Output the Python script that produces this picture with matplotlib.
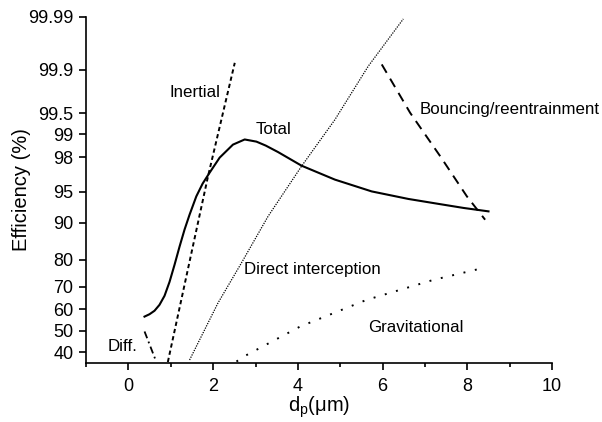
import numpy as np
import matplotlib
matplotlib.use('Agg')
import matplotlib.pyplot as plt
from statistics import NormalDist

plt.rcParams['font.family'] = ['Liberation Sans', 'DejaVu Sans']

# curves: particle size (um) and efficiency (%)
total_x = [0.379, 0.497, 0.615, 0.733, 0.852, 0.970, 1.088, 1.207, 1.325, 1.443,
           1.602, 1.751, 1.916, 2.153, 2.467, 2.744, 3.021, 3.241, 3.532, 4.086,
           4.873, 5.742, 6.608, 7.357, 7.909, 8.500]
total_y = [56.7, 57.8, 59.4, 62.1, 66.1, 71.9, 78.3, 84.1, 88.5, 91.56,
           94.44, 95.94, 96.95, 97.99, 98.63, 98.83, 98.75, 98.59, 98.29, 97.48,
           96.34, 95.07, 94.09, 93.33, 92.73, 92.15]

inertial_x = [0.93, 1.876, 2.51]
inertial_y = [35.6, 96.6, 99.925]

diff_x = [0.38, 0.655]
diff_y = [49.7, 35.8]

direct_x = [1.443, 2.113, 2.666, 3.296, 4.086, 4.873, 5.661, 6.489]
direct_y = [36.5, 62.9, 78.9, 91.25, 97.44, 99.38, 99.914, 99.989]

grav_x = [2.55, 2.70, 4.05, 5.62, 7.20, 8.38]
grav_y = [35.8, 37.8, 52.0, 64.3, 72.7, 77.2]

bounce_x = [5.98, 6.65, 7.36, 7.99, 8.42]
bounce_y = [99.92, 99.51, 98.07, 94.44, 90.6]

yticks = [40, 50, 60, 70, 80, 90, 95, 98, 99, 99.5, 99.9, 99.99]
ytick_labels = ['40', '50', '60', '70', '80', '90', '95', '98', '99', '99.5', '99.9', '99.99']

nd = NormalDist()
_ppf = np.vectorize(lambda p: nd.inv_cdf(p), otypes=[float])
_cdf = np.vectorize(lambda z: nd.cdf(z), otypes=[float])


def forward(p):
    p = np.clip(np.asarray(p, dtype=float) / 100.0, 1e-9, 1 - 1e-9)
    return _ppf(p)


def inverse(z):
    return 100.0 * _cdf(np.asarray(z, dtype=float))


fig = plt.figure(figsize=(6.02, 4.22), dpi=100)
ax = fig.add_axes([0.143, 0.140, 0.774, 0.820])
ax.set_yscale('function', functions=(forward, inverse))

ax.plot(total_x, total_y, color='black', lw=1.5)
ax.plot(inertial_x, inertial_y, color='black', lw=1.4, ls=(0, (2.2, 1.6)))
ax.plot(diff_x, diff_y, color='black', lw=1.3, ls=(0, (4, 2, 1, 2)))
ax.plot(direct_x, direct_y, color='black', lw=0.9, ls=(0, (1, 1)))
ax.plot(grav_x, grav_y, color='black', lw=1.4, ls=(0, (1, 5)))
ax.plot(bounce_x, bounce_y, color='black', lw=1.4, ls=(0, (5, 3.5)))

ax.set_xlim(-1, 10)
ax.set_ylim(35.2, 99.99)
ax.set_yticks(yticks)
ax.set_yticklabels(ytick_labels)
ax.minorticks_off()
ax.set_xticks([0, 2, 4, 6, 8, 10])
ax.set_xticks([-1, 1, 3, 5, 7, 9], minor=True)

for s in ['top', 'right']:
    ax.spines[s].set_visible(False)
for s in ['left', 'bottom']:
    ax.spines[s].set_linewidth(1.2)
ax.tick_params(axis='both', which='major', direction='out', length=5, width=1.2, labelsize=13)
ax.tick_params(axis='y', which='major', pad=4)
ax.tick_params(axis='x', which='major', pad=6)
ax.tick_params(axis='x', which='minor', direction='out', length=3, width=1.2)

ax.set_xlabel('d$_\\mathregular{p}$(\u03bcm)', fontsize=14.5)
ax.set_ylabel('Efficiency (%)', fontsize=14.5)
ax.xaxis.set_label_coords(0.5, -0.09)
ax.yaxis.set_label_coords(-0.118, 0.5)

fs = 12.2
ax.text(1.58, 99.76, 'Inertial', fontsize=fs, ha='center', va='center')
ax.text(3.43, 99.14, 'Total', fontsize=fs, ha='center', va='center')
ax.text(6.88, 99.56, 'Bouncing/reentrainment', fontsize=fs, ha='left', va='center')
ax.text(2.73, 76.5, 'Direct interception', fontsize=fs, ha='left', va='center')
ax.text(6.78, 51.7, 'Gravitational', fontsize=fs, ha='center', va='center')
ax.text(-0.14, 42.7, 'Diff.', fontsize=fs, ha='center', va='center')

fig.savefig('out.png', dpi=100)
